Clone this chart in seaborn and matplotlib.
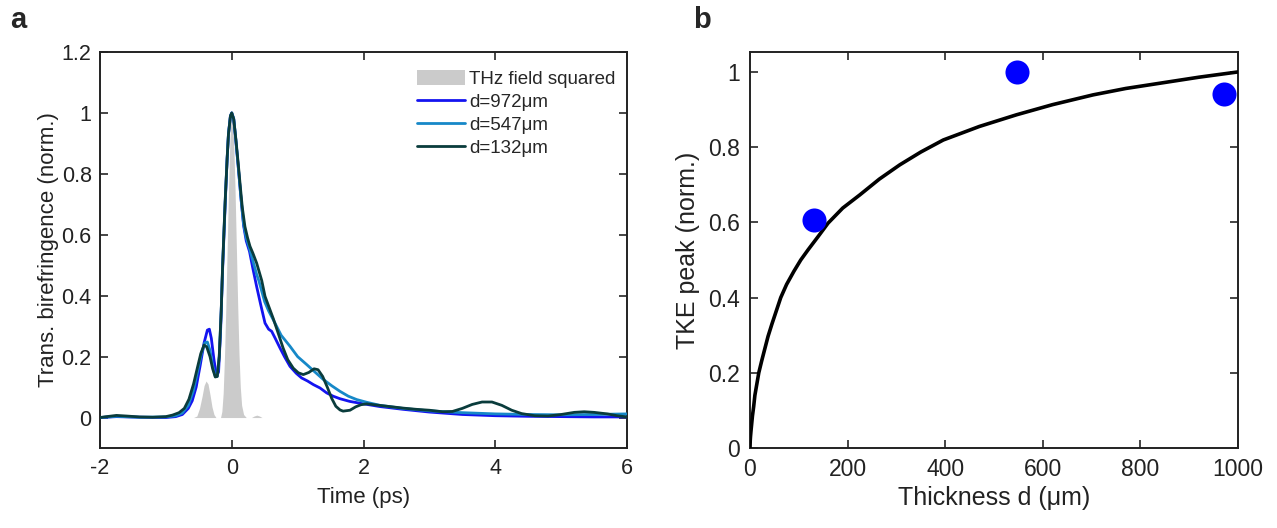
import matplotlib
matplotlib.use("Agg")
import matplotlib.pyplot as plt
import seaborn as sns
import pandas as pd
from matplotlib.patches import Patch
from matplotlib.lines import Line2D
from matplotlib.ticker import FuncFormatter

# ---------------- data: panel a ----------------
thz_t = [-0.58, -0.53, -0.49, -0.45, -0.42, -0.39, -0.36, -0.33, -0.30, -0.27, -0.24,
         -0.17, -0.15, -0.13, -0.11, -0.09, -0.07, -0.05, -0.03, -0.015, 0.0, 0.015,
         0.03, 0.05, 0.07, 0.09, 0.11, 0.13, 0.15, 0.18, 0.22, 0.30, 0.34, 0.38, 0.42, 0.46]
thz_v = [0.0, 0.005, 0.03, 0.07, 0.105, 0.12, 0.11, 0.075, 0.035, 0.01, 0.0,
         0.0, 0.02, 0.08, 0.20, 0.36, 0.55, 0.74, 0.90, 0.97, 1.0, 0.97,
         0.90, 0.75, 0.56, 0.37, 0.21, 0.10, 0.04, 0.01, 0.0, 0.0, 0.005, 0.008, 0.005, 0.0]

d972_t = [-2.0, -1.75, -1.4, -1.0, -0.85, -0.75, -0.66, -0.60, -0.54, -0.48, -0.42, -0.37,
          -0.34, -0.31, -0.27, -0.23, -0.20, -0.17, -0.14, -0.12, -0.10, -0.07, -0.05, -0.02,
          0.0, 0.03, 0.06, 0.10, 0.14, 0.18, 0.22, 0.27, 0.32, 0.378, 0.44, 0.505, 0.56,
          0.606, 0.66, 0.733, 0.80, 0.884, 0.98, 1.06, 1.15, 1.24, 1.34, 1.44, 1.54, 1.64,
          1.79, 2.0, 2.25, 2.6, 3.0, 3.5, 4.0, 4.5, 5.0, 5.5, 6.0]
d972_v = [0.0, 0.003, 0.001, 0.0, 0.003, 0.01, 0.03, 0.055, 0.10, 0.17, 0.245, 0.287,
          0.29, 0.26, 0.19, 0.135, 0.15, 0.28, 0.48, 0.59, 0.70, 0.85, 0.93, 0.99,
          1.0, 0.98, 0.915, 0.82, 0.72, 0.63, 0.58, 0.545, 0.49, 0.43, 0.37, 0.31, 0.29,
          0.283, 0.26, 0.228, 0.20, 0.168, 0.145, 0.13, 0.12, 0.108, 0.097, 0.081, 0.07, 0.062,
          0.053, 0.045, 0.036, 0.027, 0.018, 0.01, 0.006, 0.004, 0.003, 0.002, 0.002]

d547_t = [-2.0, -1.75, -1.4, -1.0, -0.85, -0.75, -0.66, -0.58, -0.52, -0.46, -0.41, -0.37,
          -0.33, -0.29, -0.25, -0.22, -0.19, -0.16, -0.14, -0.12, -0.10, -0.07, -0.05, -0.02,
          0.0, 0.03, 0.06, 0.10, 0.14, 0.18, 0.22, 0.27, 0.32, 0.378, 0.41, 0.50, 0.56, 0.63,
          0.75, 0.884, 1.0, 1.137, 1.26, 1.39, 1.52, 1.643, 1.77, 1.897, 2.05, 2.25, 2.6,
          3.0, 3.5, 4.0, 4.5, 5.0, 5.5, 6.0]
d547_v = [0.0, 0.004, 0.001, 0.002, 0.006, 0.015, 0.04, 0.09, 0.15, 0.21, 0.245, 0.248,
          0.22, 0.17, 0.135, 0.135, 0.20, 0.35, 0.49, 0.60, 0.71, 0.85, 0.93, 0.99,
          1.0, 0.98, 0.915, 0.82, 0.72, 0.635, 0.59, 0.555, 0.515, 0.47, 0.45, 0.38, 0.35, 0.321,
          0.27, 0.234, 0.20, 0.174, 0.15, 0.125, 0.104, 0.086, 0.07, 0.059, 0.05, 0.04, 0.03,
          0.022, 0.016, 0.012, 0.01, 0.009, 0.01, 0.012]

d132_t = [-2.0, -1.9, -1.75, -1.6, -1.4, -1.2, -1.0, -0.9, -0.8, -0.72, -0.65, -0.58,
          -0.52, -0.47, -0.42, -0.38, -0.33, -0.29, -0.25, -0.22, -0.19, -0.16, -0.14, -0.12,
          -0.10, -0.07, -0.05, -0.02, 0.0, 0.03, 0.064, 0.10, 0.125, 0.16, 0.20, 0.24, 0.277,
          0.32, 0.378, 0.455, 0.505, 0.57, 0.63, 0.70, 0.78, 0.85, 0.934, 1.01, 1.086, 1.17,
          1.25, 1.31, 1.38, 1.45, 1.517, 1.58, 1.643, 1.69, 1.795, 1.88, 1.96, 2.05, 2.2,
          2.4, 2.6, 2.8, 3.0, 3.2, 3.35, 3.5, 3.65, 3.8, 3.95, 4.1, 4.25, 4.4, 4.6, 4.8,
          5.0, 5.2, 5.35, 5.5, 5.7, 5.85, 6.0]
d132_v = [0.0, 0.003, 0.007, 0.005, 0.002, 0.001, 0.003, 0.008, 0.016, 0.03, 0.06, 0.11,
          0.165, 0.21, 0.238, 0.232, 0.20, 0.16, 0.133, 0.135, 0.20, 0.35, 0.49, 0.60,
          0.71, 0.85, 0.93, 0.99, 1.0, 0.98, 0.911, 0.83, 0.77, 0.69, 0.627, 0.59, 0.562,
          0.54, 0.507, 0.45, 0.398, 0.36, 0.325, 0.28, 0.228, 0.19, 0.162, 0.147, 0.141, 0.148,
          0.16, 0.157, 0.135, 0.10, 0.063, 0.037, 0.025, 0.021, 0.024, 0.035, 0.042, 0.045, 0.041,
          0.036, 0.031, 0.027, 0.024, 0.019, 0.02, 0.03, 0.043, 0.051, 0.051, 0.04, 0.024, 0.013, 0.006, 0.005,
          0.01, 0.017, 0.019, 0.017, 0.012, 0.006, 0.002]

# ---------------- data: panel b ----------------
meas_d = [132, 547, 972]
meas_peak = [0.607, 1.0, 0.942]

fit_d = [0, 0.5, 1, 2, 3.5, 5, 7.5, 10, 14, 18, 24, 30, 37, 45, 54, 63, 75, 90, 104, 119,
         140, 160, 190, 225, 265, 307, 350, 396, 470, 546, 620, 703, 770, 840, 920, 1000]
fit_v = [0.0, 0.02, 0.03, 0.045, 0.065, 0.085, 0.11, 0.14, 0.17, 0.20, 0.232, 0.262, 0.297,
         0.33, 0.365, 0.40, 0.435, 0.47, 0.50, 0.527, 0.563, 0.598, 0.638, 0.673, 0.715, 0.753,
         0.787, 0.819, 0.855, 0.886, 0.913, 0.939, 0.956, 0.970, 0.986, 1.0]

# ---------------- styling ----------------
sns.set_theme(style="ticks")
plt.rcParams["font.family"] = ["Liberation Sans", "DejaVu Sans"]
plt.rcParams["axes.linewidth"] = 1.4

c972 = "#1414f0"
c547 = "#1688c8"
c132 = "#0a3c3c"
cgray = "#cbcbcb"
tcol = "#222222"

fig = plt.figure(figsize=(12.77, 5.28), dpi=100)
W, H = 1277, 528
ax1 = fig.add_axes([100 / W, 1 - 448 / H, 527 / W, 396 / H])
ax2 = fig.add_axes([750 / W, 1 - 448 / H, 488 / W, 396 / H])

# panel a
ax1.fill_between(thz_t, thz_v, 0, color=cgray, linewidth=0, zorder=1)
df972 = pd.DataFrame({"t": d972_t, "v": d972_v})
df547 = pd.DataFrame({"t": d547_t, "v": d547_v})
df132 = pd.DataFrame({"t": d132_t, "v": d132_v})
lw_a = 2.0
sns.lineplot(data=df972, x="t", y="v", ax=ax1, color=c972, lw=lw_a, sort=False, zorder=3)
sns.lineplot(data=df547, x="t", y="v", ax=ax1, color=c547, lw=lw_a, sort=False, zorder=4)
sns.lineplot(data=df132, x="t", y="v", ax=ax1, color=c132, lw=lw_a, sort=False, zorder=5)

ax1.set_xlim(-2, 6)
ax1.set_ylim(-0.1, 1.2)
ax1.set_xticks([-2, 0, 2, 4, 6])
ax1.set_yticks([0, 0.2, 0.4, 0.6, 0.8, 1.0, 1.2])
fmt = FuncFormatter(lambda v, p: "%g" % round(v, 3))
ax1.xaxis.set_major_formatter(fmt)
ax1.yaxis.set_major_formatter(fmt)
ax1.set_xlabel("Time (ps)", fontsize=16, color=tcol, labelpad=6)
ax1.set_ylabel("Trans. birefringence (norm.)", fontsize=16, color=tcol, labelpad=2)

handles = [Patch(facecolor=cgray, edgecolor="none"),
           Line2D([], [], color=c972, lw=lw_a),
           Line2D([], [], color=c547, lw=lw_a),
           Line2D([], [], color=c132, lw=lw_a)]
labels = ["THz field squared", "d=972\u03bcm", "d=547\u03bcm", "d=132\u03bcm"]
ax1.legend(handles, labels, loc="upper left", bbox_to_anchor=(0.601, 0.955), frameon=False,
           fontsize=13.5, handlelength=2.6, handleheight=0.85, handletextpad=0.2,
           labelspacing=0.28, borderpad=0, borderaxespad=0)

# panel b
dfit = pd.DataFrame({"d": fit_d, "v": fit_v})
dmeas = pd.DataFrame({"d": meas_d, "v": meas_peak})
sns.lineplot(data=dfit, x="d", y="v", ax=ax2, color="black", lw=2.6, sort=False, zorder=3)
sns.scatterplot(data=dmeas, x="d", y="v", ax=ax2, color="#0000ff", s=300, linewidth=0,
                zorder=4, clip_on=False)
ax2.set_xlim(0, 1000)
ax2.set_ylim(0, 1.053)
ax2.set_xticks([0, 200, 400, 600, 800, 1000])
ax2.set_yticks([0, 0.2, 0.4, 0.6, 0.8, 1.0])
ax2.xaxis.set_major_formatter(fmt)
ax2.yaxis.set_major_formatter(fmt)
ax2.set_xlabel("Thickness d (\u03bcm)", fontsize=18, color=tcol, labelpad=4)
ax2.set_ylabel("TKE peak (norm.)", fontsize=18, color=tcol, labelpad=6)

for ax, ts in ((ax1, 15.5), (ax2, 16.5)):
    ax.tick_params(direction="in", top=True, right=True, length=6, width=1.2,
                   labelsize=ts, labelcolor=tcol, pad=7)
    for sp in ax.spines.values():
        sp.set_visible(True)
        sp.set_color(tcol)
        sp.set_linewidth(1.4)
ax1.tick_params(axis="y", pad=6)

fig.text(10 / W, 1 - 20 / H, "a", fontsize=21, fontweight="bold", va="center", ha="left")
fig.text(693 / W, 1 - 20 / H, "b", fontsize=21, fontweight="bold", va="center", ha="left")

fig.savefig("out.png", dpi=100, facecolor="white")
